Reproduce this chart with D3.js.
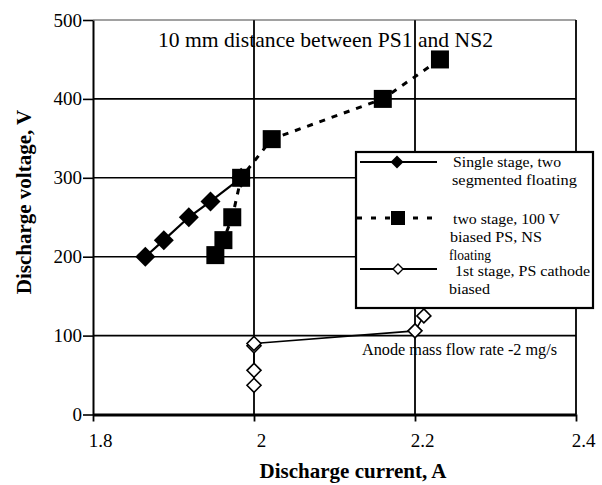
<!DOCTYPE html>
<html>
<head>
<meta charset="utf-8">
<script src="https://cdn.jsdelivr.net/npm/d3@7"></script>
<style>
  body { margin: 0; background: #fff; }
  svg text { font-family: "Liberation Serif", "Times New Roman", serif; fill: #000; }
</style>
</head>
<body>
<script>
// values
var currentTicks = [1.8, 2, 2.2, 2.4];
var voltageTicks = [0, 100, 200, 300, 400, 500];
var gridVoltage = [100, 200, 300, 400];
var gridCurrent = [2, 2.2];

// single stage, two segmented floating
var singleI = [1.865, 1.888, 1.919, 1.946, 1.984];
var singleV = [200, 221, 250, 270, 300];
// two stage, 100 V biased PS, NS floating
var twoI = [1.952, 1.962, 1.973, 1.984, 2.022, 2.16, 2.231];
var twoV = [202, 221, 250, 300, 349, 400, 450];
// 1st stage, PS cathode biased
var firstI = [2, 2, 2, 2, 2.2, 2.211];
var firstV = [37, 56, 87, 90, 106, 125];

var legendLines = [
  ["Single stage, two", "segmented floating"],
  ["two stage, 100 V", "biased PS, NS", "floating"],
  ["1st stage, PS cathode", "biased"]
];
var titleText = "10 mm distance between PS1 and NS2";
var noteText = "Anode mass flow rate -2 mg/s";

var W = 602, H = 485;
var svg = d3.select("body").append("svg")
  .attr("width", W)
  .attr("height", H);

var x = d3.scaleLinear().domain([1.8, 2.4]).range([93, 576]);
var y = d3.scaleLinear().domain([0, 500]).range([414.5, 20]);

function zip(a, b) {
  return a.map(function (d, i) { return [d, b[i]]; });
}

// grid
svg.append("g").selectAll("line")
  .data(gridVoltage)
  .enter().append("line")
  .attr("x1", x(1.8)).attr("x2", x(2.4))
  .attr("y1", function (d) { return y(d); })
  .attr("y2", function (d) { return y(d); })
  .attr("stroke", "#000")
  .attr("stroke-width", 1.6);

svg.append("g").selectAll("line")
  .data(gridCurrent)
  .enter().append("line")
  .attr("x1", function (d) { return x(d); })
  .attr("x2", function (d) { return x(d); })
  .attr("y1", y(500)).attr("y2", y(0))
  .attr("stroke", "#000")
  .attr("stroke-width", 1.8);

// frame top / right
svg.append("line")
  .attr("x1", x(1.8)).attr("x2", x(2.4))
  .attr("y1", y(500)).attr("y2", y(500))
  .attr("stroke", "#444").attr("stroke-width", 1.2);
svg.append("line")
  .attr("x1", x(2.4)).attr("x2", x(2.4))
  .attr("y1", y(500)).attr("y2", y(0))
  .attr("stroke", "#000").attr("stroke-width", 1.8);

// axes
var yAxis = d3.axisLeft(y)
  .tickValues(voltageTicks)
  .tickSize(10)
  .tickSizeOuter(0)
  .tickPadding(1);

var gy = svg.append("g")
  .attr("transform", "translate(" + x(1.8) + ",0)")
  .call(yAxis)
  .attr("font-family", null)
  .attr("font-size", null);
gy.select(".domain").attr("stroke-width", 2);
gy.selectAll(".tick line").attr("stroke-width", 1.6);
gy.selectAll(".tick text")
  .attr("font-family", "Liberation Serif, serif")
  .attr("font-size", 19)
  .attr("fill", "#000");

var xAxis = d3.axisBottom(x)
  .tickValues(currentTicks)
  .tickSize(7)
  .tickSizeOuter(0)
  .tickPadding(12)
  .tickFormat(function (d) { return String(d); });

var gx = svg.append("g")
  .attr("transform", "translate(0," + y(0) + ")")
  .call(xAxis)
  .attr("font-family", null)
  .attr("font-size", null);
gx.select(".domain").attr("stroke-width", 3);
gx.selectAll(".tick line").attr("stroke-width", 1.8);
gx.selectAll(".tick text")
  .attr("dx", 7)
  .attr("font-family", "Liberation Serif, serif")
  .attr("font-size", 19)
  .attr("fill", "#000");

// axis titles
svg.append("text")
  .attr("transform", "translate(31,202) rotate(-90)")
  .attr("text-anchor", "middle")
  .style("font-size", "21px")
  .style("font-weight", "bold")
  .text("Discharge voltage, V");

svg.append("text")
  .attr("x", 353).attr("y", 478)
  .attr("text-anchor", "middle")
  .style("font-size", "21px")
  .style("font-weight", "bold")
  .text("Discharge current, A");

// title + note
svg.append("text")
  .attr("x", 158).attr("y", 47)
  .attr("textLength", 335)
  .attr("lengthAdjust", "spacingAndGlyphs")
  .style("font-size", "21px")
  .text(titleText);

svg.append("text")
  .attr("x", 362).attr("y", 355)
  .attr("textLength", 195)
  .attr("lengthAdjust", "spacingAndGlyphs")
  .style("font-size", "16px")
  .text(noteText);

var line = d3.line()
  .x(function (d) { return x(d[0]); })
  .y(function (d) { return y(d[1]); });

var diamond = function (r) {
  return "M0," + (-r) + "L" + r + ",0L0," + r + "L" + (-r) + ",0Z";
};

// series lines
var firstData = zip(firstI, firstV);
var singleData = zip(singleI, singleV);
var twoData = zip(twoI, twoV);

svg.append("path")
  .datum(firstData)
  .attr("d", line)
  .attr("fill", "none")
  .attr("stroke", "#000")
  .attr("stroke-width", 1.6);

svg.append("path")
  .datum(singleData)
  .attr("d", line)
  .attr("fill", "none")
  .attr("stroke", "#000")
  .attr("stroke-width", 2.2);

svg.append("path")
  .datum(twoData)
  .attr("d", line)
  .attr("fill", "none")
  .attr("stroke", "#000")
  .attr("stroke-width", 3)
  .attr("stroke-dasharray", "6,7");

// markers
svg.selectAll(".open")
  .data(firstData)
  .enter().append("path")
  .attr("class", "open")
  .attr("transform", function (d) { return "translate(" + x(d[0]) + "," + y(d[1]) + ")"; })
  .attr("d", diamond(7))
  .attr("fill", "#fff")
  .attr("stroke", "#000")
  .attr("stroke-width", 1.6);

svg.selectAll(".dia")
  .data(singleData)
  .enter().append("path")
  .attr("class", "dia")
  .attr("transform", function (d) { return "translate(" + x(d[0]) + "," + y(d[1]) + ")"; })
  .attr("d", diamond(10))
  .attr("fill", "#000");

svg.selectAll(".sq")
  .data(twoData)
  .enter().append("rect")
  .attr("class", "sq")
  .attr("x", function (d) { return x(d[0]) - 9; })
  .attr("y", function (d) { return y(d[1]) - 9; })
  .attr("width", 18)
  .attr("height", 18)
  .attr("fill", "#000");

// legend
var lg = svg.append("g");
lg.append("rect")
  .attr("x", 356).attr("y", 152)
  .attr("width", 237).attr("height", 156)
  .attr("fill", "#fff")
  .attr("stroke", "#000")
  .attr("stroke-width", 2.2);

lg.append("line").attr("x1", 360).attr("x2", 437).attr("y1", 162).attr("y2", 162)
  .attr("stroke", "#000").attr("stroke-width", 1.8);
lg.append("path").attr("transform", "translate(397,162)").attr("d", diamond(6.5)).attr("fill", "#000");

lg.append("line").attr("x1", 357).attr("x2", 437).attr("y1", 218).attr("y2", 218)
  .attr("stroke", "#000").attr("stroke-width", 3).attr("stroke-dasharray", "5,9");
lg.append("rect").attr("x", 391).attr("y", 211).attr("width", 14).attr("height", 14).attr("fill", "#000");

lg.append("line").attr("x1", 360).attr("x2", 437).attr("y1", 269).attr("y2", 269)
  .attr("stroke", "#000").attr("stroke-width", 1.8);
lg.append("path").attr("transform", "translate(398,269)").attr("d", diamond(5))
  .attr("fill", "#fff").attr("stroke", "#000").attr("stroke-width", 1.4);

var legendPos = [
  [[453, 167, 108], [452, 185, 125]],
  [[453, 224, 107], [450, 242, 92], [449, 260, 42]],
  [[455, 276, 135], [449, 294, 41]]
];
legendLines.forEach(function (rows, i) {
  rows.forEach(function (t, j) {
    var p = legendPos[i][j];
    lg.append("text")
      .attr("x", p[0]).attr("y", p[1])
      .attr("textLength", p[2])
      .attr("lengthAdjust", "spacingAndGlyphs")
      .style("font-size", "15px")
      .text(t);
  });
});
</script>
</body>
</html>
